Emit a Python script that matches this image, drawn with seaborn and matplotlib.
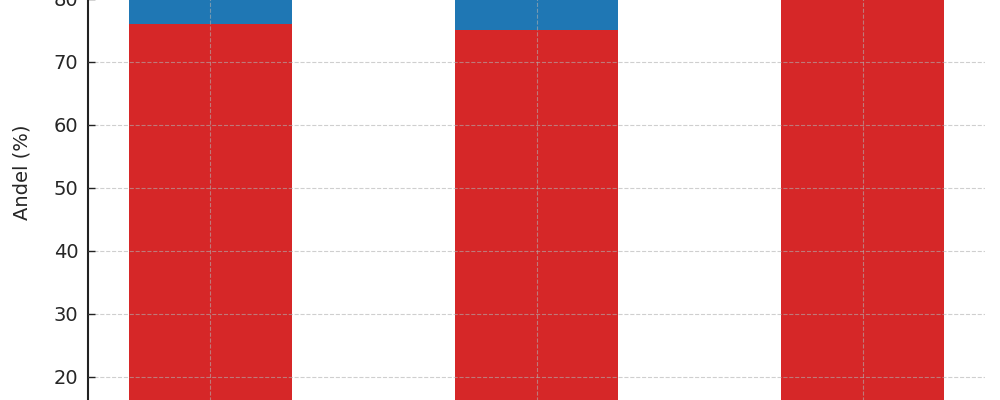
import numpy as np
import pandas as pd
import matplotlib
matplotlib.use("Agg")
import matplotlib.pyplot as plt
import seaborn as sns

# data (stacked shares, %)
categories = ["Gruppe A", "Gruppe B", "Gruppe C"]
red_share = [76, 75, 90]
blue_share = [24, 25, 10]
y_ticks = [20, 30, 40, 50, 60, 70, 80]

df = pd.DataFrame({"kategori": categories, "rod": red_share, "bla": blue_share})
df["total"] = df["rod"] + df["bla"]

sns.set_style("white")
plt.rcParams["font.family"] = ["DejaVu Sans"]

fig = plt.figure(figsize=(10, 4), dpi=100)
# axes reaches past the canvas, only the middle part is shown
ax = fig.add_axes([0.088, -0.2575, 0.897, 1.654])

# stacked bars: total in blue, red drawn on top
sns.barplot(data=df, x="kategori", y="total", color="#1f77b4", width=0.5,
            saturation=1, linewidth=0, ax=ax)
sns.barplot(data=df, x="kategori", y="rod", color="#d62728", width=0.5,
            saturation=1, linewidth=0, ax=ax)

ax.set_ylim(0, 105)
ax.set_xlim(-0.375, 2.375)
ax.set_yticks(y_ticks)
ax.set_xlabel("")
ax.set_xticklabels([])  # category labels fall outside the visible part
ax.set_ylabel("Andel (%)", fontsize=14, labelpad=16)
ax.tick_params(axis="y", labelsize=14, direction="in", length=5, width=1,
               color="#222222", pad=7, left=True)
ax.tick_params(axis="x", length=0)
ax.grid(True, linestyle="--", color="#b0b0b0", alpha=0.6, linewidth=0.8)
ax.set_axisbelow(False)
for b in ax.patches:
    b.set_zorder(1)

for s in ["top", "right", "bottom"]:
    ax.spines[s].set_visible(False)
ax.spines["left"].set_color("#222222")
ax.spines["left"].set_linewidth(1.5)

fig.savefig("out.png", dpi=100)
plt.close()
